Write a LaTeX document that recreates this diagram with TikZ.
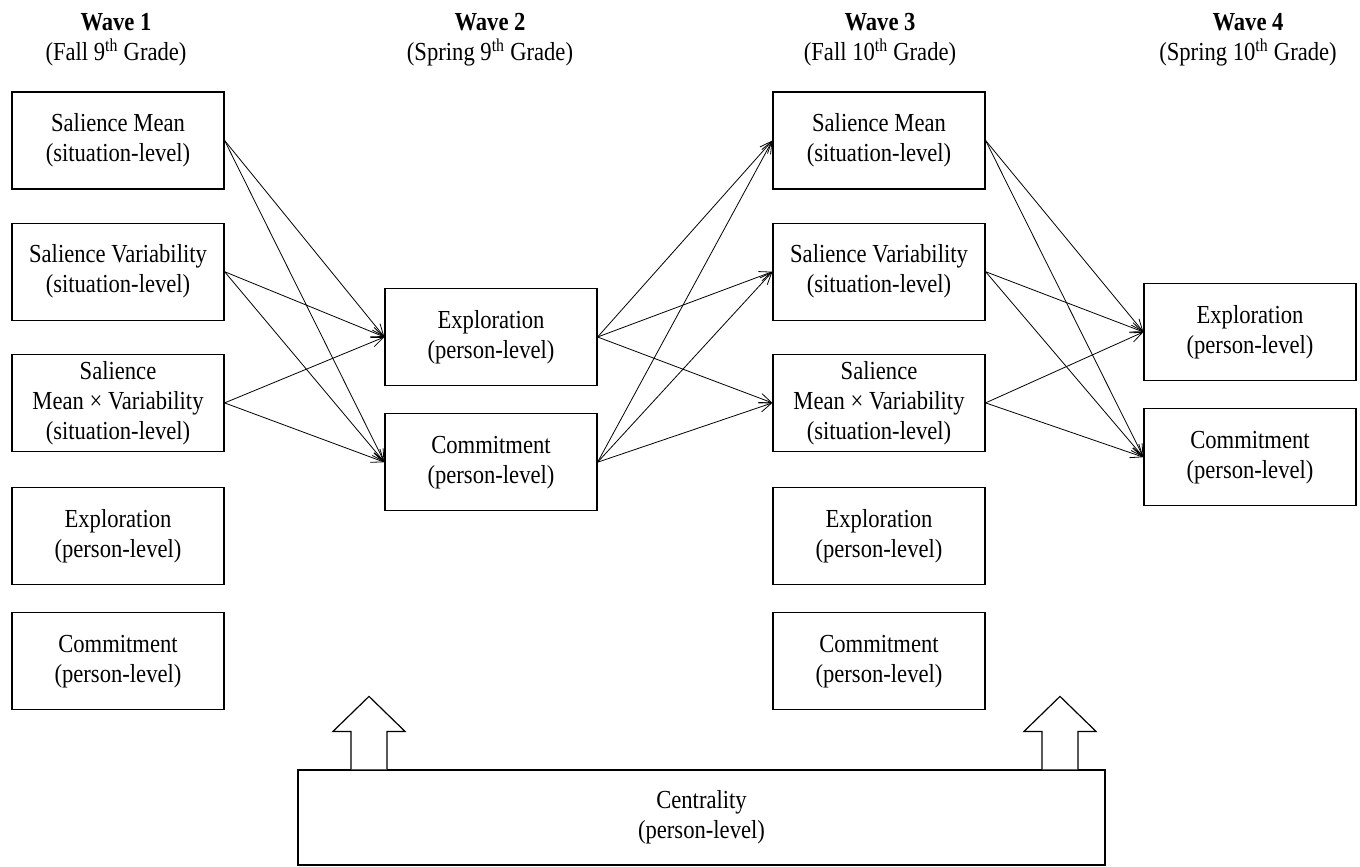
\documentclass[tikz,border=0pt]{standalone}
\usepackage{fontspec}
\setmainfont{Liberation Serif}[FakeStretch=0.87]
\usepackage{tikz}
\usetikzlibrary{arrows.meta,calc,positioning}
\tikzset{
        block/.style = {draw, rectangle, line width=1.2pt,
            minimum height=97pt,
            minimum width=212pt,
            align=center, inner sep=0pt},
        title/.style = {align=center},
        arrow/.style={draw, line width=0.8pt, -{Straight Barb[length=12pt,width=10pt]}},
        bigarrow/.style = {draw, line width=1.2pt, line join=miter, fill=white},
    }

\begin{document}
\begin{tikzpicture}[x=1pt,y=1pt,font=\fontsize{26}{30}\selectfont]
    \useasboundingbox (0,0) rectangle (1360,-867);

    % wave titles
    \node[title] (w1) at (116,-40) {\textbf{Wave 1}\\(Fall 9\textsuperscript{th} Grade)};
    \node[title] (w2) at (490,-40) {\textbf{Wave 2}\\(Spring 9\textsuperscript{th} Grade)};
    \node[title] (w3) at (880,-40) {\textbf{Wave 3}\\(Fall 10\textsuperscript{th} Grade)};
    \node[title] (w4) at (1248,-40) {\textbf{Wave 4}\\(Spring 10\textsuperscript{th} Grade)};

    % wave 1
    \node[block] (s1m) at (118,-140.5) {Salience Mean\\(situation-level)};
    \node[block, below=33pt of s1m] (s1v) {Salience Variability\\(situation-level)};
    \node[block, below=33pt of s1v] (s1x) {Salience\\Mean × Variability\\(situation-level)};
    \node[block, below=35pt of s1x] (e1) {Exploration\\(person-level)};
    \node[block, below=27pt of e1] (c1) {Commitment\\(person-level)};

    % wave 2
    \node[block] (e2) at (491,-337) {Exploration\\(person-level)};
    \node[block, below=27pt of e2] (c2) {Commitment\\(person-level)};

    % wave 3
    \node[block] (s3m) at (879,-140.5) {Salience Mean\\(situation-level)};
    \node[block, below=33pt of s3m] (s3v) {Salience Variability\\(situation-level)};
    \node[block, below=33pt of s3v] (s3x) {Salience\\Mean × Variability\\(situation-level)};
    \node[block, below=35pt of s3x] (e3) {Exploration\\(person-level)};
    \node[block, below=27pt of e3] (c3) {Commitment\\(person-level)};

    % wave 4
    \node[block] (e4) at (1250,-332) {Exploration\\(person-level)};
    \node[block, below=27pt of e4] (c4) {Commitment\\(person-level)};

    % centrality
    \node[block, minimum width=807pt, minimum height=95pt] (cent) at (701.5,-817.5) {Centrality\\(person-level)};

    \path (s1m.east) edge[arrow] (e2.west) edge[arrow] (c2.west);
    \path (s1v.east) edge[arrow] (e2.west) edge[arrow] (c2.west);
    \path (s1x.east) edge[arrow] (e2.west) edge[arrow] (c2.west);

    \path (e2.east) edge[arrow] (s3m.west) edge[arrow] (s3v.west) edge[arrow] (s3x.west);
    \path (c2.east) edge[arrow] (s3m.west) edge[arrow] (s3v.west) edge[arrow] (s3x.west);

    \path (s3m.east) edge[arrow] (e4.west) edge[arrow] (c4.west);
    \path (s3v.east) edge[arrow] (e4.west) edge[arrow] (c4.west);
    \path (s3x.east) edge[arrow] (e4.west) edge[arrow] (c4.west);

    % block arrows from centrality
    \foreach \xs in {-332.5, 358.5}
        \draw[bigarrow] ($(cent.north)+(\xs,0)$) ++(-18,0) -- ++(0,38) -- ++(-18,0)
            -- ++(36,35) -- ++(36,-35) -- ++(-18,0) -- ++(0,-38);
\end{tikzpicture}
\end{document}
